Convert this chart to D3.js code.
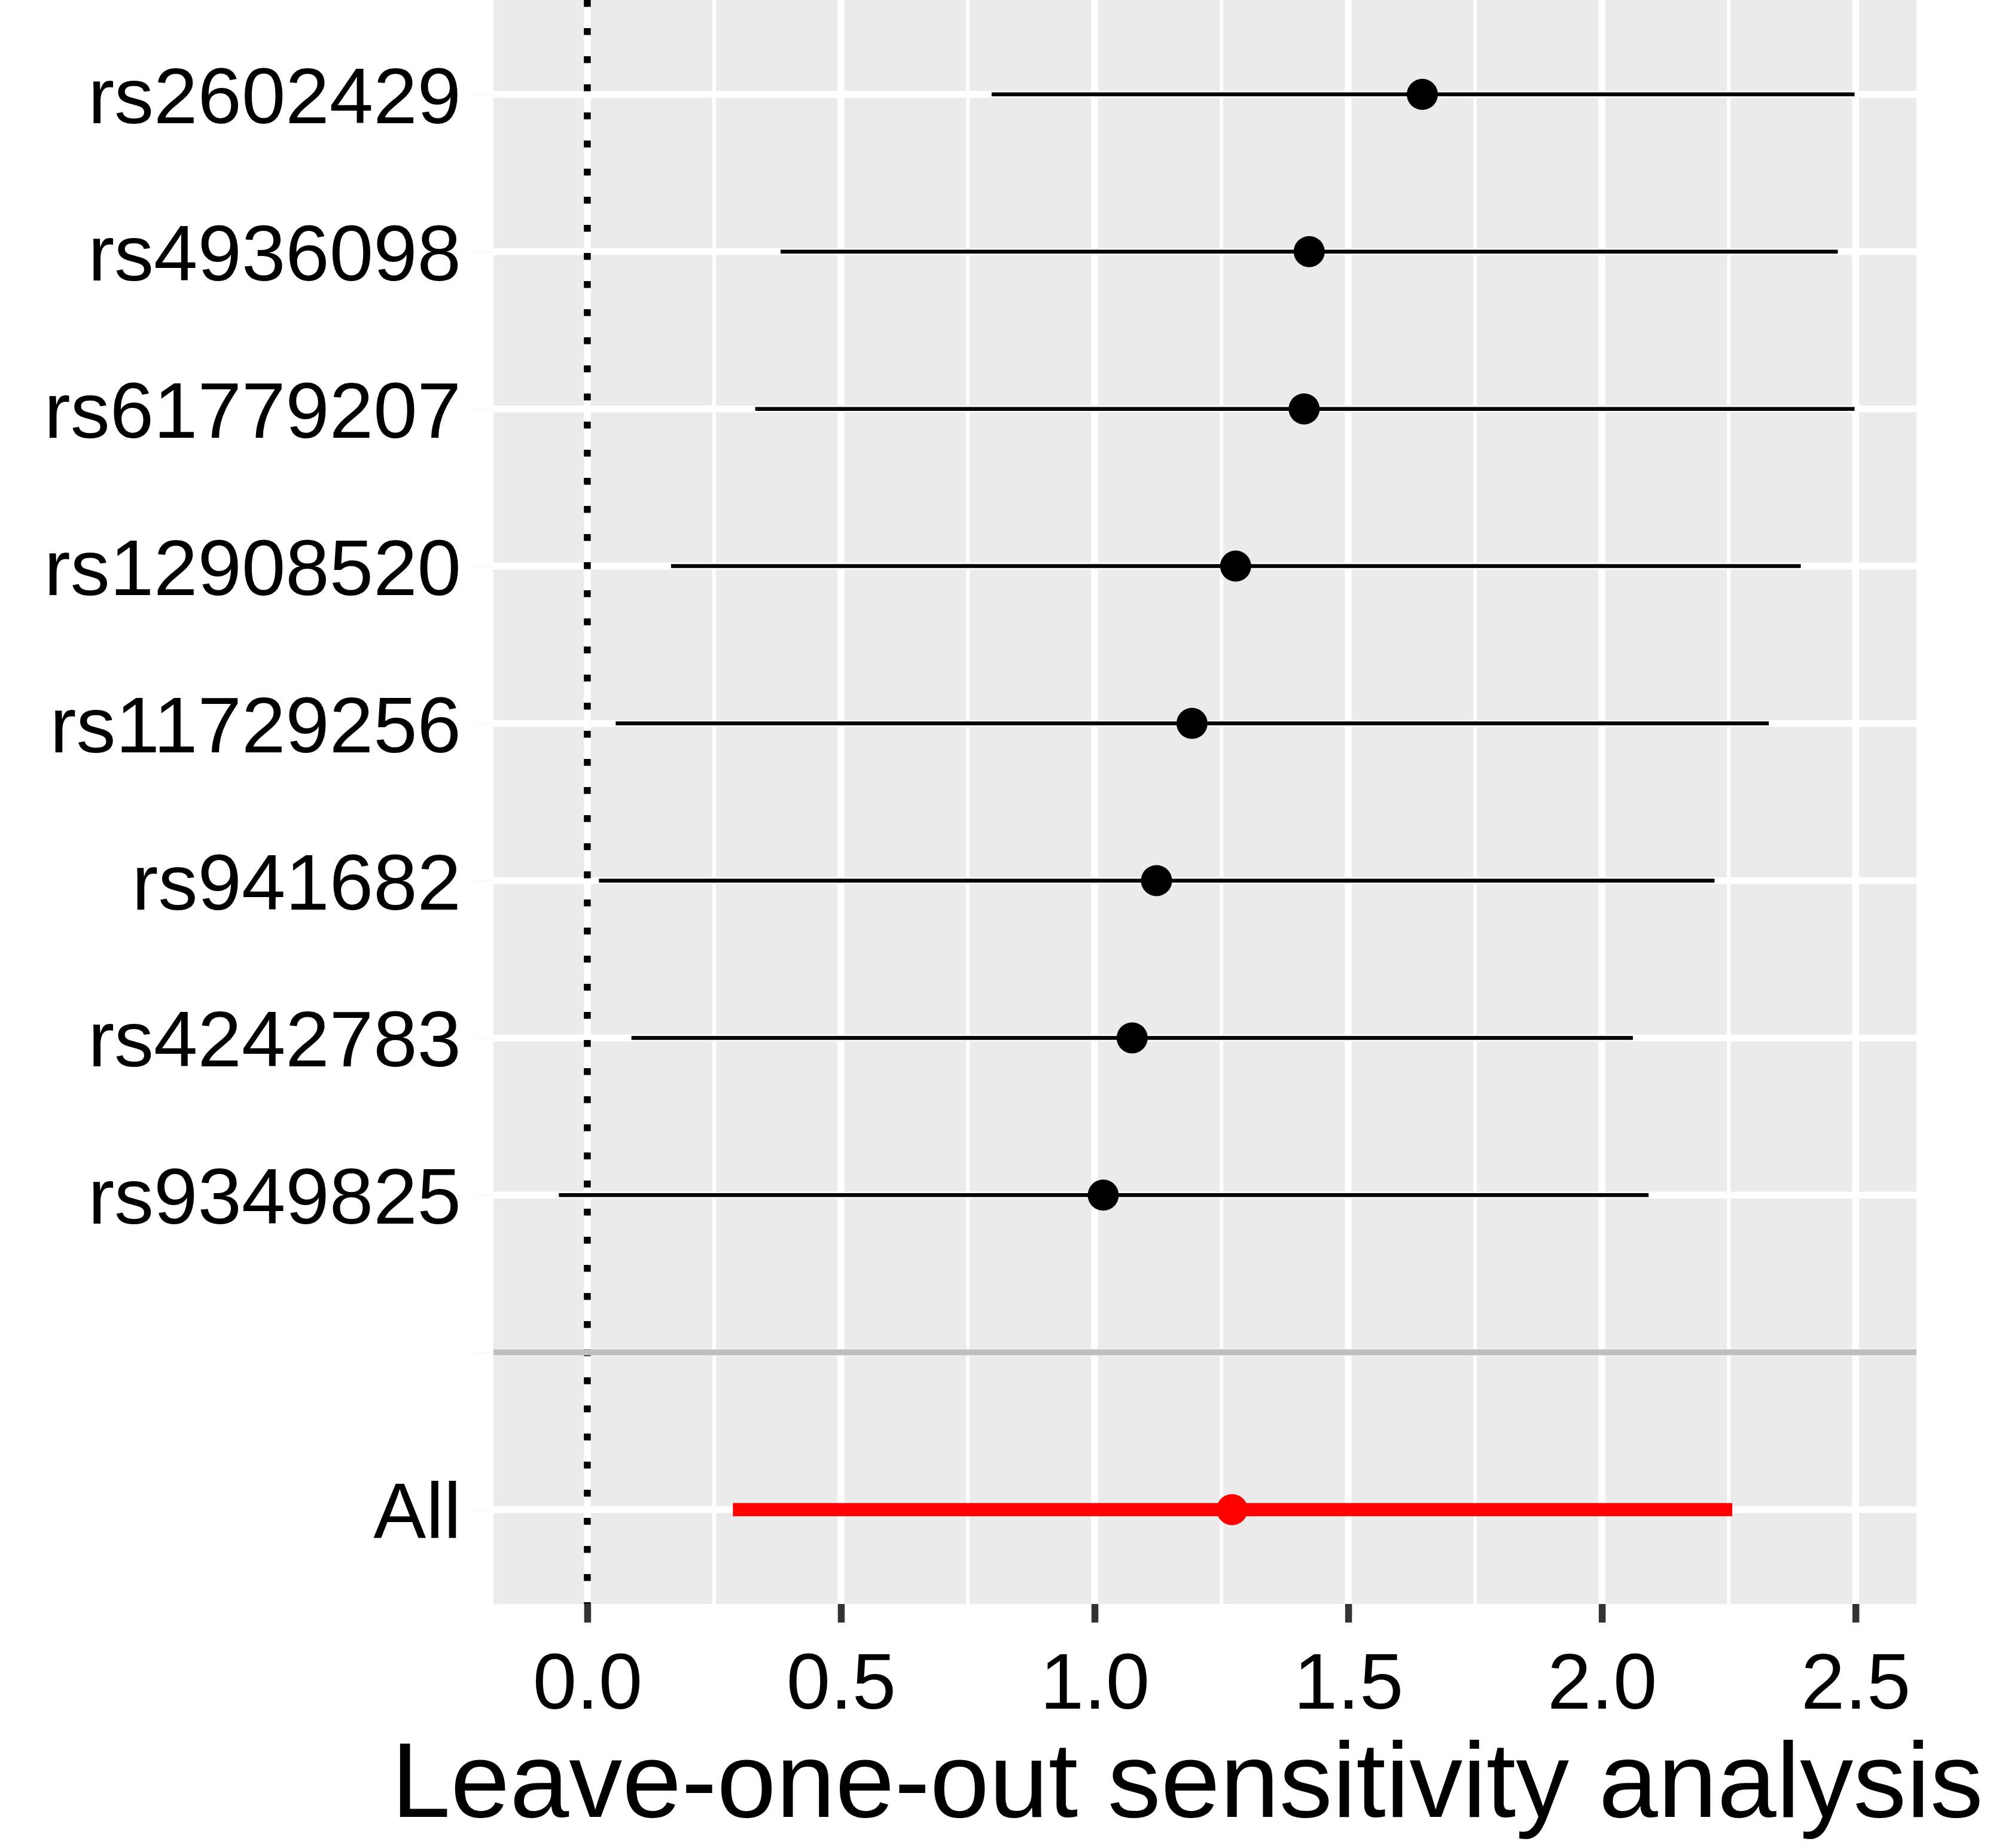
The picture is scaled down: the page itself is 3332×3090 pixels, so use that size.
<!DOCTYPE html>
<html>
<head>
<meta charset="utf-8">
<script src="https://cdn.jsdelivr.net/npm/d3@7"></script>
<style>
  html, body { margin: 0; padding: 0; background: #ffffff; }
  svg { display: block; }
  text { font-family: "Liberation Sans", Arial, sans-serif; }
</style>
</head>
<body>
<div id="chart"></div>
<script>
// ---- data (top to bottom) ----
const snps     = ["rs2602429", "rs4936098", "rs61779207", "rs12908520", "rs11729256", "rs941682", "rs4242783", "rs9349825", "", "All"];
const estimate = [1.646, 1.423, 1.413, 1.278, 1.192, 1.122, 1.074, 1.017, null, 1.271];
const lower    = [0.797, 0.381, 0.331, 0.165, 0.056, 0.023, 0.087, -0.056, null, 0.287];
const upper    = [2.498, 2.465, 2.498, 2.392, 2.329, 2.222, 2.061, 2.092, null, 2.257];
const isTotal  = [false, false, false, false, false, false, false, false, false, true];
const xTicks   = [0, 0.5, 1.0, 1.5, 2.0, 2.5];
const xMinor   = [0.25, 0.75, 1.25, 1.75, 2.25];
const xTitle   = "Leave-one-out sensitivity analysis";
const separatorLabel = "";

const rows = snps.map((s, i) => ({snp: s, b: estimate[i], lo: lower[i], hi: upper[i], tot: isTotal[i]}))
                 .filter(d => d.b !== null);

// ---- layout ----
const W = 3332, H = 3090;
const P = {left: 825, right: 3204, top: 0, bottom: 2682};

const svg = d3.select("#chart").append("svg").attr("width", W).attr("height", H);
svg.append("rect").attr("width", W).attr("height", H).attr("fill", "#ffffff");

const x = d3.scaleLinear().domain([-0.185, 2.62]).range([P.left, P.right]);
const y = d3.scalePoint().domain(snps).range([P.top, P.bottom]).padding(0.6);

// panel
svg.append("rect").attr("x", P.left).attr("y", P.top)
  .attr("width", P.right - P.left).attr("height", P.bottom - P.top).attr("fill", "#ebebeb");

const grid = svg.append("g");
grid.selectAll("line.minor").data(xMinor).join("line")
  .attr("x1", d => x(d)).attr("x2", d => x(d)).attr("y1", P.top).attr("y2", P.bottom)
  .attr("stroke", "#ffffff").attr("stroke-width", 6);
grid.selectAll("line.majx").data(xTicks).join("line")
  .attr("x1", d => x(d)).attr("x2", d => x(d)).attr("y1", P.top).attr("y2", P.bottom)
  .attr("stroke", "#ffffff").attr("stroke-width", 11.5);
grid.selectAll("line.majy").data(snps).join("line")
  .attr("x1", P.left).attr("x2", P.right).attr("y1", d => y(d)).attr("y2", d => y(d))
  .attr("stroke", "#ffffff").attr("stroke-width", 11.5);

// dotted zero line
svg.append("line")
  .attr("x1", x(0)).attr("x2", x(0)).attr("y1", P.top).attr("y2", P.bottom)
  .attr("stroke", "#000000").attr("stroke-width", 11.5)
  .attr("stroke-dasharray", "11.5,35.5");

// error bars
svg.append("g").selectAll("line").data(rows).join("line")
  .attr("x1", d => x(d.lo)).attr("x2", d => x(d.hi))
  .attr("y1", d => y(d.snp)).attr("y2", d => y(d.snp))
  .attr("stroke", d => d.tot ? "#ff0000" : "#000000")
  .attr("stroke-width", d => d.tot ? 22 : 6.5);

// points
svg.append("g").selectAll("circle").data(rows).join("circle")
  .attr("cx", d => x(d.b)).attr("cy", d => y(d.snp)).attr("r", 26)
  .attr("fill", d => d.tot ? "#ff0000" : "#000000");

// separator line
svg.append("line")
  .attr("x1", P.left).attr("x2", P.right)
  .attr("y1", y(separatorLabel)).attr("y2", y(separatorLabel))
  .attr("stroke", "#bebebe").attr("stroke-width", 10);

// x axis
const xAxis = svg.append("g").attr("transform", `translate(0,${P.bottom})`)
  .call(d3.axisBottom(x).tickValues(xTicks).tickFormat(d3.format(".1f")).tickSize(31).tickSizeOuter(0));
xAxis.select(".domain").remove();
xAxis.selectAll(".tick line").attr("stroke", "#333333").attr("stroke-width", 11.5);
xAxis.selectAll(".tick text")
  .attr("y", 175).attr("dy", null)
  .attr("fill", "#000000").attr("font-size", 132)
  .style("font-family", "'Liberation Sans', Arial, sans-serif");

// y axis
const yAxis = svg.append("g").attr("transform", `translate(${P.left},0)`)
  .call(d3.axisLeft(y).tickSize(31).tickPadding(23));
yAxis.select(".domain").remove();
yAxis.selectAll(".tick line").attr("stroke", "#fafafa").attr("stroke-width", 3);
yAxis.selectAll(".tick text")
  .attr("x", -54).attr("dy", "0.36em")
  .attr("fill", "#000000").attr("font-size", 132)
  .style("font-family", "'Liberation Sans', Arial, sans-serif");

// x title
svg.append("text")
  .attr("x", 1985).attr("y", 3038)
  .attr("text-anchor", "middle").attr("font-size", 178).attr("fill", "#000000")
  .text(xTitle);
</script>
</body>
</html>
